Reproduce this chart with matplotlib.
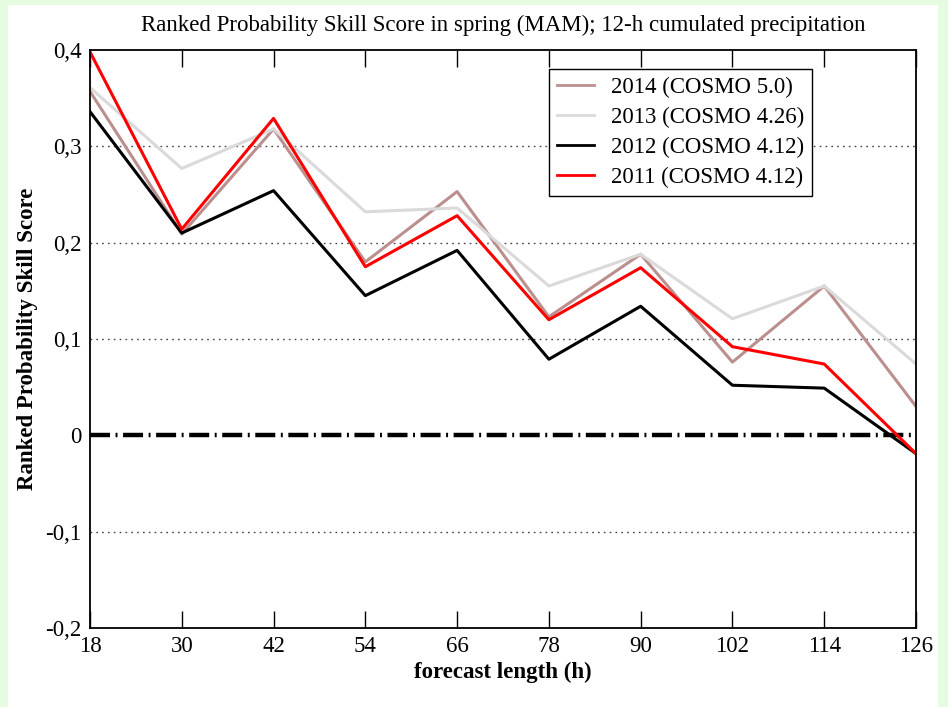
import matplotlib
matplotlib.use("Agg")
import matplotlib.pyplot as plt
from matplotlib.patches import Rectangle

plt.rcParams["font.family"] = ["Liberation Serif", "DejaVu Serif"]
plt.rcParams["lines.scale_dashes"] = False

# datos
HORAS = [18, 30, 42, 54, 66, 78, 90, 102, 114, 126]
rpss_2014 = [0.357, 0.209, 0.318, 0.180, 0.253, 0.123, 0.188, 0.076, 0.155, 0.030]
rpss_2013 = [0.361, 0.277, 0.318, 0.232, 0.236, 0.155, 0.188, 0.121, 0.155, 0.074]
rpss_2012 = [0.336, 0.210, 0.254, 0.145, 0.192, 0.079, 0.134, 0.052, 0.049, -0.019]
rpss_2011 = [0.398, 0.214, 0.329, 0.175, 0.228, 0.120, 0.174, 0.092, 0.074, -0.019]
ETIQUETAS = ["2014 (COSMO 5.0)", "2013 (COSMO 4.26)", "2012 (COSMO 4.12)", "2011 (COSMO 4.12)"]
COLORES = ["#bc8f8f", "#dadada", "black", "red"]
YTICKS = [-0.2, -0.1, 0, 0.1, 0.2, 0.3, 0.4]
YLABELS = ["-0,2", "-0,1", "0", "0,1", "0,2", "0,3", "0,4"]

FS = 16.5

fig = plt.figure(figsize=(9.48, 7.07), dpi=100, facecolor="#e6fce0")
fondo = Rectangle((8 / 948, 0), 930 / 948, 1 - 5 / 707,
                  transform=fig.transFigure, facecolor="white",
                  edgecolor="none", zorder=-10)
fig.add_artist(fondo)
ax = fig.add_axes([90 / 948, 79 / 707, 826 / 948, 578 / 707])
ax.set_zorder(1)

for y in [0.3, 0.2, 0.1, -0.1]:
    ax.axhline(y, color="#444444", linestyle=(0, (1.2, 3.0)), linewidth=1.0, zorder=1)
ax.axhline(0, color="black", linewidth=3.2, dashes=(14.4, 4.0, 1.4, 4.0), zorder=2)

for serie, lab, col in zip([rpss_2014, rpss_2013, rpss_2012, rpss_2011], ETIQUETAS, COLORES):
    ax.plot(HORAS, serie, color=col, linewidth=2.2, label=lab, zorder=3)

ax.set_xlim(18, 126)
ax.set_ylim(-0.2, 0.4)
ax.set_xticks(HORAS)
ax.set_xticklabels([str(h) for h in HORAS])
ax.set_yticks(YTICKS)
ax.set_yticklabels(YLABELS)
ax.tick_params(axis="x", direction="in", length=12, width=1.0, top=True,
               labelsize=FS, pad=6)
ax.tick_params(axis="y", length=0, labelsize=FS, pad=6)
for s in ax.spines.values():
    s.set_linewidth(1.3)
    s.set_zorder(5)

ax.set_title("Ranked Probability Skill Score in spring (MAM); 12-h cumulated precipitation",
             fontsize=FS, pad=14)
ax.set_xlabel("forecast length (h)", fontsize=FS, fontweight="bold", labelpad=3)
ax.set_ylabel("Ranked Probability Skill Score", fontsize=FS, fontweight="bold", labelpad=5)

leg = ax.legend(loc="upper left", bbox_to_anchor=(0.5557, 0.967), borderaxespad=0,
                fontsize=FS, fancybox=False, framealpha=1, edgecolor="black",
                handlelength=1.6, handletextpad=0.75, borderpad=0.35, labelspacing=0.38)
leg.get_frame().set_linewidth(1.0)
for h in leg.get_lines():
    h.set_linewidth(2.0)

fig.savefig("out.png", dpi=100, facecolor=fig.get_facecolor())
